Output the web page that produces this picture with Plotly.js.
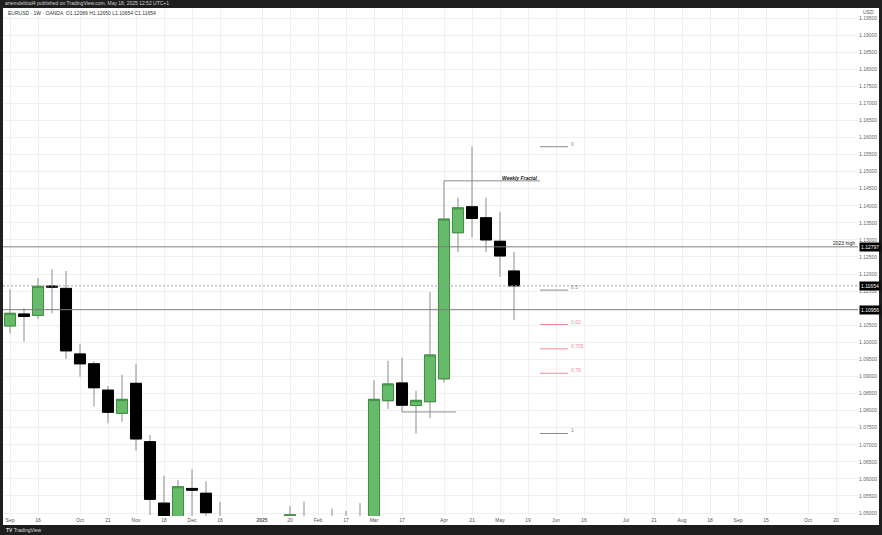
<!DOCTYPE html>
<html><head><meta charset="utf-8">
<script src="https://cdn.plot.ly/plotly-3.0.1.min.js"></script>
<style>html,body{margin:0;padding:0;background:#1e1e1e;}#chart{width:882px;height:535px;}</style>
</head><body><div id="chart"></div>
<script>
// Weekly EURUSD candles (week start dates)
const weeks = ['2024-09-02','2024-09-09','2024-09-16','2024-09-23','2024-09-30','2024-10-07','2024-10-14','2024-10-21','2024-10-28','2024-11-04','2024-11-11','2024-11-18','2024-11-25','2024-12-02','2024-12-09','2024-12-16','2024-12-23','2024-12-30','2025-01-06','2025-01-13','2025-01-20','2025-01-27','2025-02-03','2025-02-10','2025-02-17','2025-02-24','2025-03-03','2025-03-10','2025-03-17','2025-03-24','2025-03-31','2025-04-07','2025-04-14','2025-04-21','2025-04-28','2025-05-05','2025-05-12'];
const openP  = [1.1048,1.1083,1.1079,1.1165,1.1158,1.0966,1.0937,1.0860,1.0792,1.0880,1.0709,1.0529,1.0420,1.0572,1.0558,1.0489,1.0428,1.0426,1.0305,1.0243,1.0272,1.0487,1.0250,1.0330,1.0487,1.0459,1.0375,1.0829,1.0881,1.0815,1.0826,1.0893,1.1321,1.1397,1.1365,1.1296,1.12089];
const highP  = [1.1155,1.1100,1.1188,1.1214,1.1209,1.0995,1.0944,1.0872,1.0905,1.0937,1.0728,1.0609,1.0597,1.0628,1.0593,1.0533,1.0456,1.0458,1.0437,1.0353,1.0521,1.0533,1.0443,1.0513,1.0506,1.0529,1.0889,1.0946,1.0955,1.0858,1.1147,1.1473,1.1424,1.1573,1.1424,1.1381,1.12650];
const lowP   = [1.1026,1.1002,1.1068,1.1085,1.0951,1.0899,1.0812,1.0763,1.0767,1.0683,1.0494,1.0335,1.0410,1.0461,1.0452,1.0343,1.0385,1.0226,1.0214,1.0177,1.0266,1.0340,1.0141,1.0283,1.0403,1.0358,1.0360,1.0805,1.0796,1.0733,1.0778,1.0882,1.1265,1.1308,1.1265,1.1192,1.10654];
const closeP = [1.1085,1.1076,1.1164,1.1162,1.0975,1.0937,1.0867,1.0795,1.0833,1.0717,1.0540,1.0418,1.0577,1.0567,1.0501,1.0428,1.0426,1.0308,1.0244,1.0272,1.0495,1.0362,1.0330,1.0487,1.0459,1.0375,1.0833,1.0878,1.0816,1.0830,1.0963,1.1361,1.1394,1.1363,1.1300,1.1253,1.11654];

// X tick labels
const tickDates = ['2024-09-02','2024-09-16','2024-10-07','2024-10-21','2024-11-04','2024-11-18','2024-12-02','2024-12-16','2025-01-06','2025-01-20','2025-02-03','2025-02-17','2025-03-03','2025-03-17','2025-04-07','2025-04-21','2025-05-05','2025-05-19','2025-06-02','2025-06-16','2025-07-07','2025-07-21','2025-08-04','2025-08-18','2025-09-01','2025-09-15','2025-10-06','2025-10-20'];
const tickLabels = ['Sep','16','Oct','21','Nov','18','Dec','16','<b>2025</b>','20','Feb','17','Mar','17','Apr','21','May','19','Jun','16','Jul','21','Aug','18','Sep','15','Oct','20'];

// Y tick labels (1.11000 is hidden under the 1.10956 price tag in the reference)
const yTickVals = [1.050,1.055,1.060,1.065,1.070,1.075,1.080,1.085,1.090,1.095,1.100,1.105,1.115,1.120,1.125,1.130,1.135,1.140,1.145,1.150,1.155,1.160,1.165,1.170,1.175,1.180,1.185,1.190,1.195];

// Horizontal price levels (full width)
const levelPrices = [1.12797, 1.11654, 1.10956];
const levelNames  = ['2023 high', '', ''];
const levelDash   = ['solid', 'dot', 'solid'];

// Weekly fractal lines
const fractalPrices = [1.1473, 1.0796];
const fractalStart  = ['2025-04-07', '2025-03-17'];
const fractalEnd    = ['2025-05-25', '2025-04-13'];
const fractalNames  = ['Weekly Fractal', ''];

// Fibonacci retracement
const fibHigh = 1.1573, fibLow = 1.0733;
const fibRatios = [0, 0.5, 0.62, 0.705, 0.79, 1];
const fibLabels = ['0', '0.5', '0.62', '0.705', '0.79', '1'];
const fibColors = ['#8a8a8a', '#8a8a8a', '#f28b9b', '#f28b9b', '#f28b9b', '#8a8a8a'];
const fibStart = '2025-05-25', fibEnd = '2025-06-08';

const bodyHigh = openP.map((o,i)=>Math.max(o, closeP[i]));
const bodyLow  = openP.map((o,i)=>Math.min(o, closeP[i]));

const FONT = 'Liberation Sans, Arial, sans-serif';

const traces = [
  {type:'candlestick', x:weeks, open:openP, high:highP, low:lowP, close:closeP,
   increasing:{line:{color:'#8c8c8c', width:1}, fillcolor:'#66bb6a'},
   decreasing:{line:{color:'#8c8c8c', width:1}, fillcolor:'#000000'},
   whiskerwidth:0, hoverinfo:'skip', showlegend:false},
  {type:'candlestick', x:weeks, open:openP, high:bodyHigh, low:bodyLow, close:closeP,
   increasing:{line:{color:'#3f8f43', width:1}, fillcolor:'#66bb6a'},
   decreasing:{line:{color:'#000000', width:1}, fillcolor:'#000000'},
   whiskerwidth:0, hoverinfo:'skip', showlegend:false}
];

const shapes = [
  {type:'rect', xref:'paper', yref:'paper', x0:0, x1:1.02456, y0:-0.0177, y1:1, fillcolor:'#ffffff', line:{width:0}, layer:'below'}
];
const annotations = [];

levelPrices.forEach((p,i)=>{
  shapes.push({type:'line', xref:'paper', yref:'y', x0:0, x1:1, y0:p, y1:p,
    line:{color: levelDash[i]==='dot' ? '#a0a0a0' : '#7c7c7c', width:1, dash: levelDash[i]==='dot' ? '2px,2px' : 'solid'}});
  annotations.push({xref:'paper', yref:'y', x:1, y:p, xanchor:'left', yanchor:'middle', xshift:1,
    text:p.toFixed(5), showarrow:false, bgcolor:'#000', borderpad:1,
    font:{family:FONT, size:5, color:'#fff'}});
  if(levelNames[i]) annotations.push({xref:'paper', yref:'y', x:1, y:p, xanchor:'right', yanchor:'bottom', xshift:-1, yshift:-1,
    text:levelNames[i], showarrow:false, font:{family:FONT, size:5, color:'#222'}});
});

fractalPrices.forEach((p,i)=>{
  shapes.push({type:'line', xref:'x', yref:'y', x0:fractalStart[i], x1:fractalEnd[i], y0:p, y1:p,
    line:{color:'#8c8c8c', width:1}});
  if(fractalNames[i]) annotations.push({xref:'x', yref:'y', x:fractalEnd[i], y:p, xanchor:'right', yanchor:'bottom', yshift:-2,
    text:'<b><i>'+fractalNames[i]+'</i></b>', showarrow:false, font:{family:FONT, size:5, color:'#222'}});
});

fibRatios.forEach((r,i)=>{
  const p = fibHigh - r*(fibHigh - fibLow);
  shapes.push({type:'line', xref:'x', yref:'y', x0:fibStart, x1:fibEnd, y0:p, y1:p,
    line:{color:fibColors[i], width:1}});
  annotations.push({xref:'x', yref:'y', x:fibEnd, y:p, xanchor:'left', yanchor:'middle', xshift:1, yshift:3,
    text:fibLabels[i], showarrow:false, font:{family:FONT, size:5, color:fibColors[i]}});
});

annotations.push(
  {xref:'paper', yref:'paper', x:0, y:1.0089, xanchor:'left', yanchor:'middle', showarrow:false,
   text:'artemdeblod4 published on TradingView.com, May 18, 2025 12:52 UTC+1', font:{family:FONT, size:5, color:'#cfcfcf'}},
  {xref:'paper', yref:'paper', x:0, y:0.991, xanchor:'left', yanchor:'middle', xshift:3, showarrow:false,
   text:'EURUSD · 1W · OANDA  O1.12089 H1.12650 L1.10654 C1.11654', font:{family:FONT, size:5, color:'#333'}},
  {xref:'paper', yref:'paper', x:1, y:0.992, xanchor:'left', yanchor:'middle', xshift:3, showarrow:false,
   text:'USD', font:{family:FONT, size:5, color:'#555'}},
  {xref:'paper', yref:'paper', x:0, y:-0.0276, xanchor:'left', yanchor:'middle', xshift:1, showarrow:false,
   text:'<b>TV</b> TradingView', font:{family:FONT, size:5, color:'#dddddd'}}
);

const layout = {
  width:882, height:535,
  margin:{l:3, r:24, t:8, b:19, pad:0},
  paper_bgcolor:'#1e1e1e', plot_bgcolor:'#ffffff',
  showlegend:false,
  boxgap:0.21, boxgroupgap:0,
  xaxis:{type:'date', range:['2024-08-29 12:00','2025-10-31'], tickmode:'array', tickvals:tickDates, ticktext:tickLabels,
    showgrid:true, gridcolor:'#f0f0f0', gridwidth:1, zeroline:false, showline:false, ticks:'',
    tickfont:{family:FONT, size:5, color:'#555'}, rangeslider:{visible:false}, automargin:false, fixedrange:true},
  yaxis:{side:'right', range:[1.04913, 1.19793], tickmode:'array', tickvals:yTickVals, tickformat:'.5f',
    showgrid:true, gridcolor:'#f0f0f0', gridwidth:1, zeroline:false, showline:false, ticks:'',
    tickfont:{family:FONT, size:5, color:'#666'}, automargin:false, fixedrange:true},
  shapes:shapes, annotations:annotations
};

Plotly.newPlot('chart', traces, layout, {displayModeBar:false, staticPlot:true});
</script>
</body></html>
